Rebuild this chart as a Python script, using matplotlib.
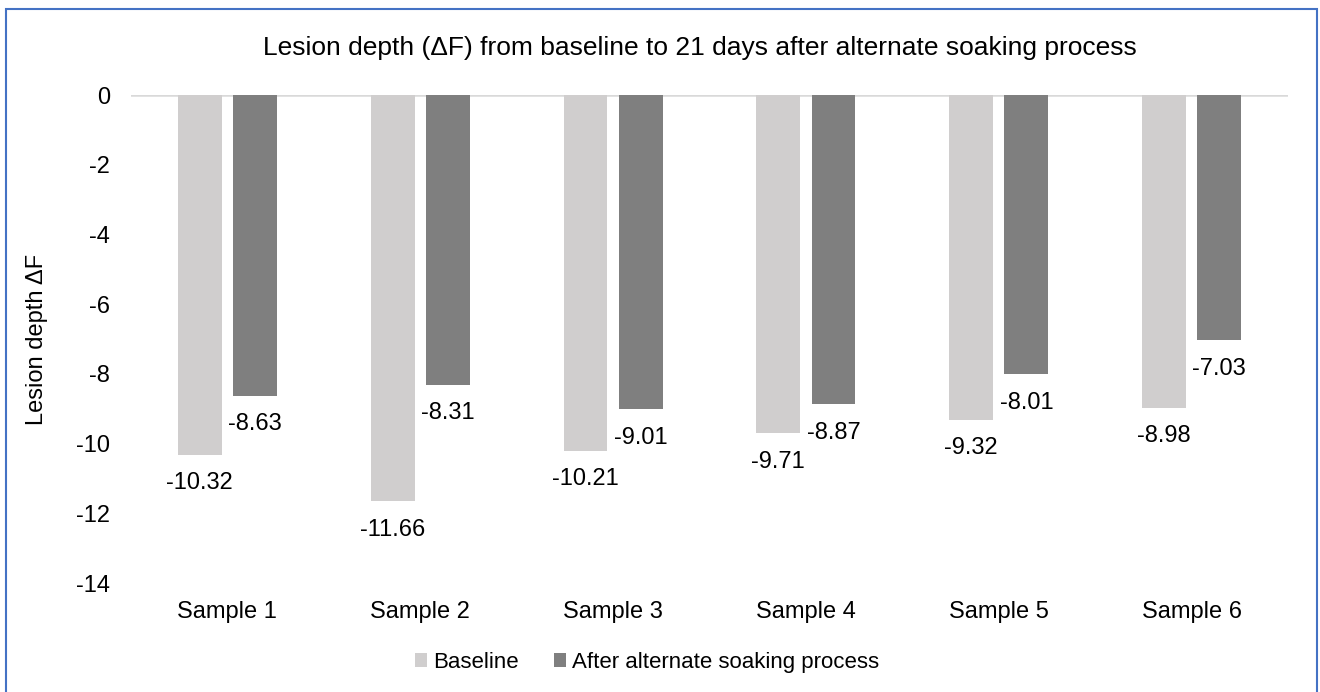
import matplotlib.pyplot as plt
from matplotlib.patches import Rectangle
import numpy as np

plt.rcParams['font.family'] = ['Liberation Sans', 'DejaVu Sans']

samples = ['Sample 1', 'Sample 2', 'Sample 3', 'Sample 4', 'Sample 5', 'Sample 6']
baseline = [-10.32, -11.66, -10.21, -9.71, -9.32, -8.98]
after_soak = [-8.63, -8.31, -9.01, -8.87, -8.01, -7.03]
series_names = ['Baseline', 'After alternate soaking process']
yticks = [0, -2, -4, -6, -8, -10, -12, -14]

fig = plt.figure(figsize=(13.2, 6.92), dpi=100)
ax = fig.add_axes([0.0992, 0.1575, 0.8766, 0.7052])

x = np.arange(len(samples))
w = 0.228
off = 0.143
b1 = ax.bar(x - off, baseline, w, color='#D0CECE', label=series_names[0], zorder=2)
b2 = ax.bar(x + off, after_soak, w, color='#7F7F7F', label=series_names[1], zorder=2)

# value labels just under each bar end
for bars, vals in ((b1, baseline), (b2, after_soak)):
    for r, v in zip(bars, vals):
        ax.annotate(f'{v:.2f}', (r.get_x() + r.get_width() / 2, v),
                    xytext=(0, -20.5), textcoords='offset points',
                    ha='center', va='center', fontsize=17)

ax.axhline(0, color='#D9D9D9', lw=1.8, zorder=1)
ax.set_xlim(-0.5, len(samples) - 0.5)
ax.set_ylim(-14, 0)
ax.set_yticks(yticks)
ax.set_yticklabels([str(t) for t in yticks])
ax.set_xticks(x)
ax.set_xticklabels(samples)
ax.tick_params(axis='y', length=0, pad=15, labelsize=17)
ax.tick_params(axis='x', length=0, pad=13, labelsize=17)
for s in ax.spines.values():
    s.set_visible(False)

ax.set_ylabel('Lesion depth ΔF', fontsize=17)
ax.yaxis.set_label_coords(-0.072, 0.5)

fig.text(0.53, 0.93, 'Lesion depth (ΔF) from baseline to 21 days after alternate soaking process',
         ha='center', va='center', fontsize=19)

fig.legend(handles=[b1, b2], loc='center', bbox_to_anchor=(0.49, 0.043), ncol=2,
           frameon=False, fontsize=16, handlelength=0.55, handleheight=0.55,
           handletextpad=0.25, columnspacing=1.6)

# outer frame
fig.patches.append(Rectangle((6 / 1320, -0.05), 1311 / 1320, 1.05 - 9 / 692,
                             transform=fig.transFigure, fill=False,
                             edgecolor='#4472C4', lw=1.5))

fig.savefig('out.png', dpi=100)
